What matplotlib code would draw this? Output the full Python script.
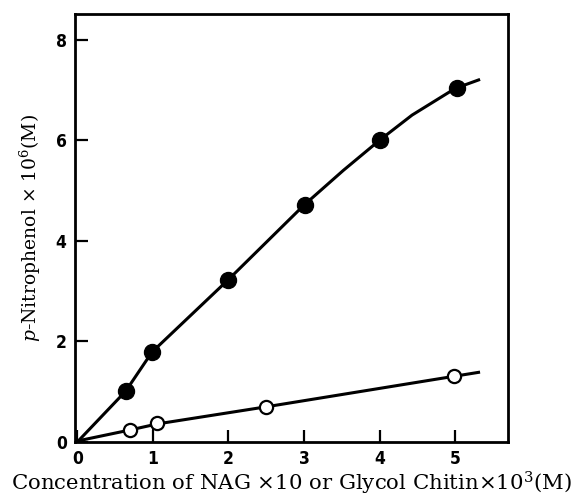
import numpy as np
import matplotlib
matplotlib.use("Agg")
import matplotlib.pyplot as plt

nag_x = [0.64, 0.99, 2.0, 3.01, 4.0, 5.02]
nag_y = [1.01, 1.79, 3.23, 4.71, 6.0, 7.03]
chitin_x = [0.70, 1.06, 2.5, 4.99]
chitin_y = [0.24, 0.37, 0.70, 1.31]

# hand-drawn curves
nag_curve_x = [0, 0.64, 0.99, 2.0, 3.0, 3.52, 4.0, 4.43, 5.0, 5.33]
nag_curve_y = [0, 1.01, 1.79, 3.23, 4.71, 5.40, 6.0, 6.50, 7.03, 7.21]
chitin_curve_x = [0, 0.70, 1.06, 2.5, 5.0, 5.33]
chitin_curve_y = [0.02, 0.24, 0.36, 0.70, 1.31, 1.39]

x_ticks = [0, 1, 2, 3, 4, 5]
y_ticks = [0, 2, 4, 6, 8]

plt.rcParams['mathtext.fontset'] = 'dejavuserif'

fig = plt.figure(figsize=(5.73, 4.99), dpi=100)
ax = fig.add_axes([0.1309, 0.1142, 0.7557, 0.8577])

ax.plot(nag_curve_x, nag_curve_y, color='black', lw=2.2, solid_capstyle='butt')
ax.plot(chitin_curve_x, chitin_curve_y, color='black', lw=2.2, solid_capstyle='butt')
ax.plot(nag_x, nag_y, 'o', color='black', ms=11.5, zorder=3)
ax.plot(chitin_x, chitin_y, 'o', mfc='white', mec='black', mew=1.6, ms=9.5, zorder=3)

# the tick at x=1 runs up to the open-circle curve in the original
ax.vlines(x_ticks[1], 0, np.interp(x_ticks[1], chitin_curve_x, chitin_curve_y),
          color='black', lw=1.4, zorder=2)

ax.set_xlim(-0.03, 5.70)
ax.set_ylim(0, 8.51)
ax.set_xticks(x_ticks)
ax.set_yticks(y_ticks)
ax.tick_params(direction='in', length=9, width=1.6, labelsize=12.5, pad=6)
for lab in ax.get_xticklabels() + ax.get_yticklabels():
    lab.set_fontweight('bold')
    lab.set_family('DejaVu Sans')
    lab.set_fontstretch('condensed')
for s in ax.spines.values():
    s.set_linewidth(2.0)

ax.set_xlabel('Concentration of NAG $\\times$10 or Glycol Chitin$\\times$10$^3$(M)',
              family='DejaVu Serif', fontsize=15.3, labelpad=1)
ax.set_ylabel('$p$-Nitrophenol $\\times$ 10$^6$(M)',
              family='DejaVu Serif', fontsize=13.5, labelpad=9)

fig.savefig('out.png', dpi=100)
